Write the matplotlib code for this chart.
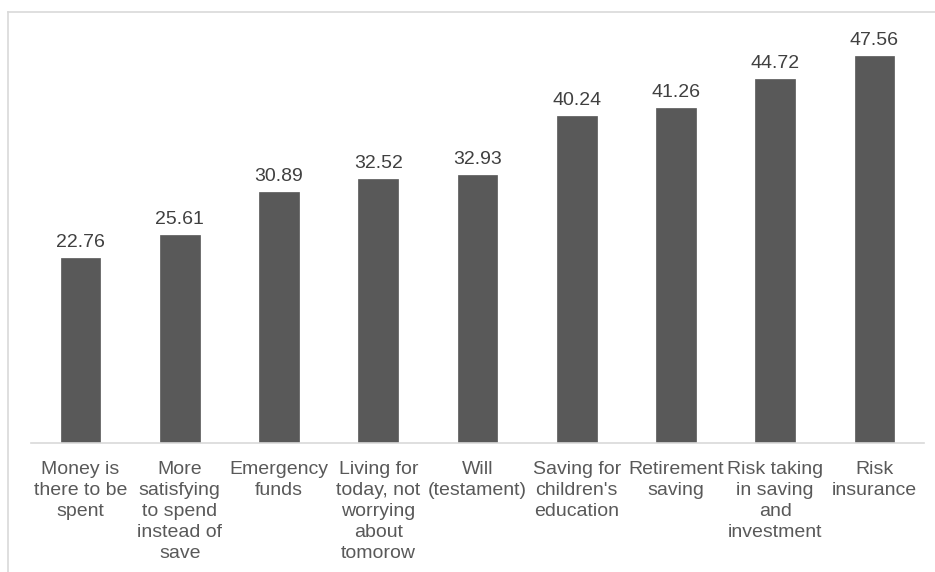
import matplotlib.pyplot as plt
from matplotlib.lines import Line2D

plt.rcParams['font.family'] = ['Liberation Sans', 'DejaVu Sans']

categories = [
    "Money is\nthere to be\nspent",
    "More\nsatisfying\nto spend\ninstead of\nsave",
    "Emergency\nfunds",
    "Living for\ntoday, not\nworrying\nabout\ntomorow",
    "Will\n(testament)",
    "Saving for\nchildren's\neducation",
    "Retirement\nsaving",
    "Risk taking\nin saving\nand\ninvestment",
    "Risk\ninsurance",
]
scores = [22.76, 25.61, 30.89, 32.52, 32.93, 40.24, 41.26, 44.72, 47.56]

W, H = 935, 572
fig = plt.figure(figsize=(W / 100, H / 100), dpi=100)
ax = fig.add_axes([31 / W, 1 - 443 / H, (924 - 31) / W, (443 - 30) / H])

x = range(len(scores))
bars = ax.bar(x, scores, width=0.4, color='#595959', edgecolor='#595959', linewidth=0.5)
for rect, v in zip(bars, scores):
    ax.annotate(f"{v:.2f}", (rect.get_x() + rect.get_width() / 2, v),
                xytext=(0, 5), textcoords='offset points',
                ha='center', va='bottom', fontsize=14, color='#404040')

ax.set_xlim(-0.5, len(scores) - 0.5)
ax.set_ylim(0, (443 - 30) / 8.13)
ax.set_xticks(list(x))
ax.set_xticklabels(categories, fontsize=14, color='#595959', linespacing=1.3, va='top')
ax.tick_params(axis='x', length=0, pad=13)
ax.set_yticks([])
for side in ['top', 'right', 'left']:
    ax.spines[side].set_visible(False)
ax.spines['bottom'].set_color('#d9d9d9')
ax.spines['bottom'].set_linewidth(1.2)

# outer chart frame
fig.add_artist(Line2D([8 / W, 1], [1 - 12 / H, 1 - 12 / H], color='#d9d9d9', lw=1.2))
fig.add_artist(Line2D([8 / W, 8 / W], [0, 1 - 12 / H], color='#d9d9d9', lw=1.2))

fig.savefig('out.png', dpi=100)
